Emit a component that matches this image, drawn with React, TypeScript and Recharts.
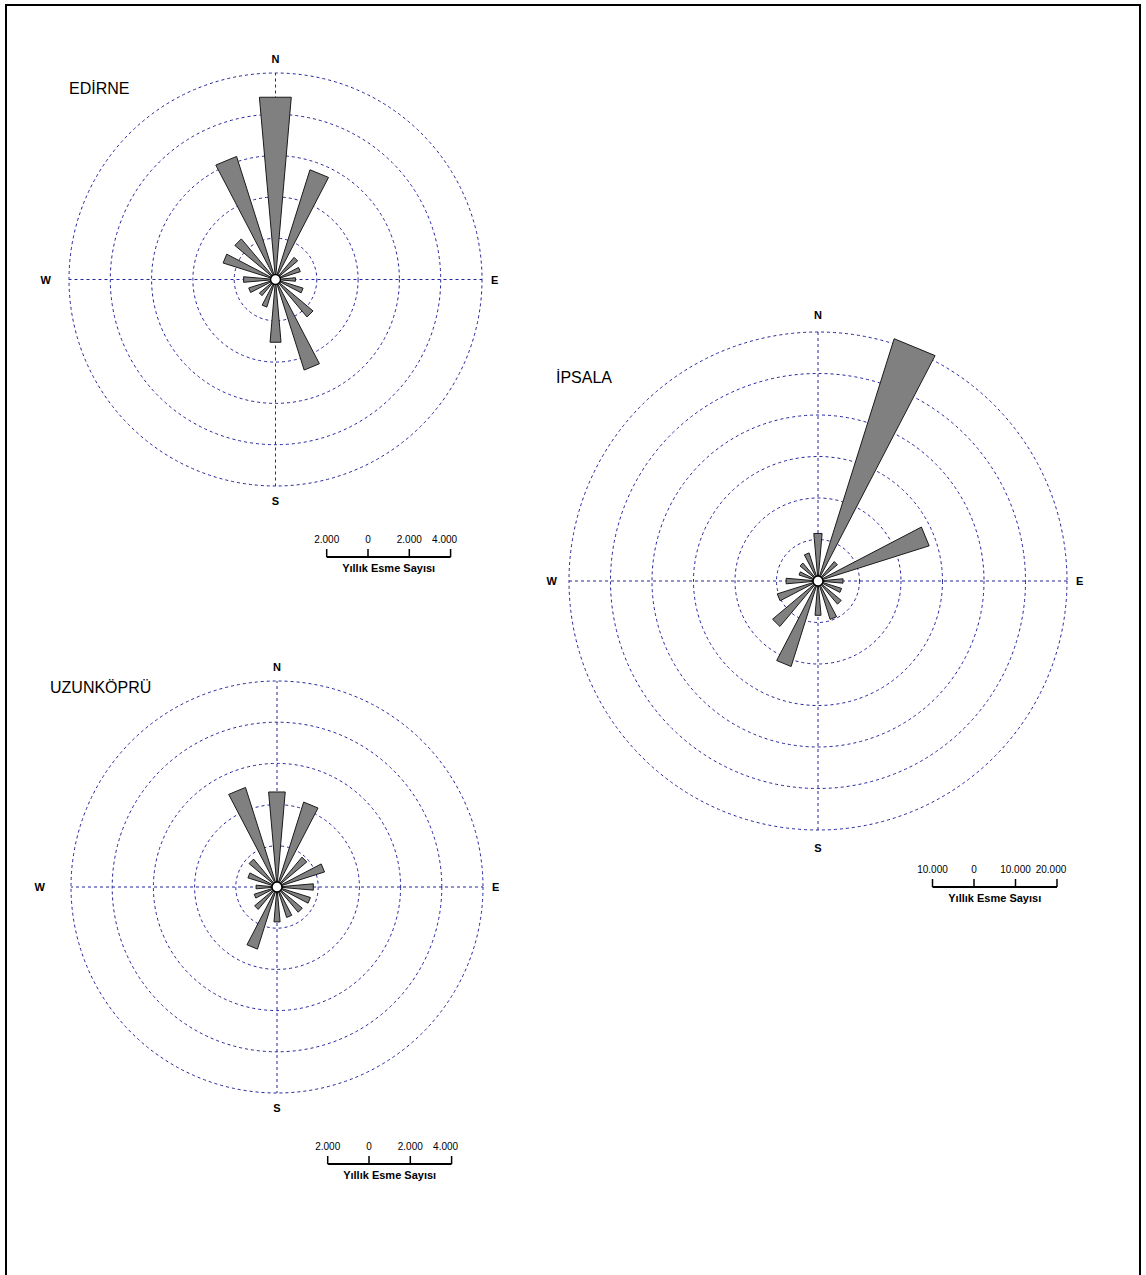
import React from "react";
import {
  RadialBarChart,
  RadialBar,
  PolarGrid,
  PolarAngleAxis,
  PolarRadiusAxis,
} from "recharts";

// 16 yön, kuzeyden saat yönünde
const directions = ["N", "NNE", "NE", "ENE", "E", "ESE", "SE", "SSE", "S", "SSW", "SW", "WSW", "W", "WNW", "NW", "NNW"];

// yıllık esme sayıları
const edirneValues = [8860, 5570, 1400, 1260, 970, 1400, 2370, 4600, 3050, 1400, 1020, 1360, 1550, 2660, 2570, 6250];
const ipsalaValues = [11500, 61200, 6100, 28100, 6050, 5960, 7300, 9700, 8300, 21600, 14300, 10300, 7700, 4800, 5650, 7100];
const uzunkopruValues = [4630, 4320, 1890, 2420, 1770, 1700, 1600, 1550, 1700, 3160, 1420, 1160, 1020, 1480, 1770, 5070];

const smallRings = [2000, 4000, 6000, 8000, 10000];
const bigRings = [10000, 20000, 30000, 40000, 50000, 60000];

const smallScaleTicks = [-2000, 0, 2000, 4000];
const smallScaleLabels = ["2.000", "0", "2.000", "4.000"];
const bigScaleTicks = [-10000, 0, 10000, 20000];
const bigScaleLabels = ["10.000", "0", "10.000", "20.000"];

const FONT = '"Liberation Sans", Arial, Helvetica, sans-serif';
const GRID = "#24249c";
const RAD = Math.PI / 180;

const toData = (values: number[]) => directions.map((dir, i) => ({ dir, value: values[i] }));

const polar = (cx: number, cy: number, r: number, a: number) => ({
  x: cx + r * Math.cos(-a * RAD),
  y: cy + r * Math.sin(-a * RAD),
});

// üçgen yaprak: merkezden dış yarıçapa düz kenarlı
const Petal = (props: any) => {
  const { cx, cy, outerRadius, startAngle, endAngle } = props;
  const p1 = polar(cx, cy, outerRadius, startAngle);
  const p2 = polar(cx, cy, outerRadius, endAngle);
  return (
    <path
      d={`M${cx},${cy}L${p1.x},${p1.y}L${p2.x},${p2.y}Z`}
      fill="#808080"
      stroke="#1a1a1a"
      strokeWidth={1}
    />
  );
};

const Rose = ({
  values,
  rings,
  outerR,
  centerX,
  centerY,
  nsGap = 0,
  wGap = 15,
}: {
  values: number[];
  rings: number[];
  outerR: number;
  centerX: number;
  centerY: number;
  nsGap?: number;
  wGap?: number;
}) => {
  const size = Math.round(outerR * 2 + 90);
  const max = rings[rings.length - 1];
  const c = size / 2;
  const lbl = { fontSize: 11, fontWeight: "bold" as const, fontFamily: FONT, fill: "#000" };
  return (
    <div style={{ position: "absolute", left: centerX - c, top: centerY - c, width: size, height: size }}>
      <RadialBarChart
        width={size}
        height={size}
        data={toData(values)}
        layout="centric"
        cx="50%"
        cy="50%"
        innerRadius={0}
        outerRadius={outerR}
        startAngle={78.75}
        endAngle={-281.25}
        barCategoryGap="28%"
        margin={{ top: 0, right: 0, bottom: 0, left: 0 }}
      >
        <PolarGrid
          gridType="circle"
          polarAngles={[90, 0, -90, 180]}
          polarRadius={rings.map((r) => (r / max) * outerR)}
          stroke={GRID}
          strokeDasharray="3 3"
          strokeWidth={1}
        />
        <PolarAngleAxis type="category" dataKey="dir" tick={false} tickLine={false} axisLine={false} />
        <PolarRadiusAxis
          type="number"
          domain={[0, max]}
          ticks={rings}
          allowDataOverflow
          tick={false}
          axisLine={false}
        />
        <RadialBar dataKey="value" isAnimationActive={false} shape={Petal} />
      </RadialBarChart>
      <svg
        width={size}
        height={size}
        style={{ position: "absolute", left: 0, top: 0, pointerEvents: "none" }}
      >
        <circle cx={c} cy={c} r={5} fill="#fff" stroke="#000" strokeWidth={1.5} />
        <text x={c} y={c - outerR - 10 - nsGap} textAnchor="middle" {...lbl}>N</text>
        <text x={c} y={c + outerR + 19 + nsGap} textAnchor="middle" {...lbl}>S</text>
        <text x={c + outerR + 9} y={c + 4} textAnchor="start" {...lbl}>E</text>
        <text x={c - outerR - wGap} y={c + 4} textAnchor="end" {...lbl}>W</text>
      </svg>
    </div>
  );
};

const ScaleBar = ({
  x0,
  y,
  ppu,
  ticks,
  labels,
}: {
  x0: number;
  y: number;
  ppu: number;
  ticks: number[];
  labels: string[];
}) => {
  const xs = ticks.map((t) => x0 + t * ppu);
  const mid = (xs[0] + xs[xs.length - 1]) / 2;
  return (
    <g fontFamily={FONT}>
      <line x1={xs[0]} x2={xs[xs.length - 1]} y1={y} y2={y} stroke="#000" strokeWidth={2} />
      {xs.map((x, i) => (
        <line key={i} x1={x} x2={x} y1={y - 8} y2={y} stroke="#000" strokeWidth={1.5} />
      ))}
      {labels.map((l, i) => (
        <text
          key={l + i}
          x={xs[i] + (i === labels.length - 1 ? -6 : 0)}
          y={y - 14}
          textAnchor="middle"
          fontSize={10}
          fill="#000"
        >
          {l}
        </text>
      ))}
      <text x={mid} y={y + 15} textAnchor="middle" fontSize={11} fontWeight="bold" fill="#000">
        Yıllık Esme Sayısı
      </text>
    </g>
  );
};

export default function App() {
  const smallR = 206.5;
  const bigR = 249;
  return (
    <div
      style={{
        position: "absolute",
        left: 0,
        top: 0,
        width: 1146,
        height: 1275,
        background: "#fff",
        overflow: "hidden",
      }}
    >
      <svg width={1146} height={1275} style={{ position: "absolute", left: 0, top: 0 }}>
        <rect x={6} y={5} width={1134} height={1290} fill="none" stroke="#000" strokeWidth={2} />
        <g fontFamily={FONT} fontSize={16} fill="#000">
          <text x={69} y={94}>EDİRNE</text>
          <text x={556} y={383}>İPSALA</text>
          <text x={50} y={693}>UZUNKÖPRÜ</text>
        </g>
        <ScaleBar x0={368} y={557} ppu={smallR / 10000} ticks={smallScaleTicks} labels={smallScaleLabels} />
        <ScaleBar x0={974} y={887} ppu={bigR / 60000} ticks={bigScaleTicks} labels={bigScaleLabels} />
        <ScaleBar x0={369} y={1164} ppu={smallR / 10000} ticks={smallScaleTicks} labels={smallScaleLabels} />
      </svg>
      <Rose values={edirneValues} rings={smallRings} outerR={smallR} centerX={275.5} centerY={279.5} wGap={18} />
      <Rose values={ipsalaValues} rings={bigRings} outerR={bigR} centerX={817.5} centerY={580.5} nsGap={3} wGap={12} />
      <Rose values={uzunkopruValues} rings={smallRings} outerR={206} centerX={277} centerY={887} wGap={26} />
    </div>
  );
}
